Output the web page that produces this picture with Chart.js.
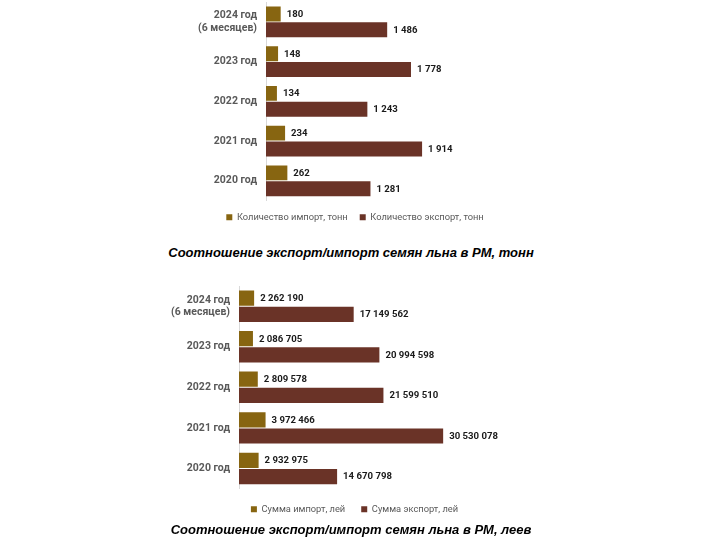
<!DOCTYPE html>
<html>
<head>
<meta charset="utf-8">
<script src="https://cdn.jsdelivr.net/npm/chart.js@4"></script>
<style>
  body { margin: 0; background: #fff; width: 702px; height: 541px; position: relative; overflow: hidden; }
  .box { position: absolute; }
  .caption { position: absolute; width: 702px; text-align: center; font-family: "Liberation Sans", Arial, sans-serif;
             font-weight: bold; font-style: italic; font-size: 13px; color: #000; }
</style>
</head>
<body>
<div class="box" style="left:170px; top:0px; width:370px; height:232px;"><canvas id="chartTons"></canvas></div>
<div class="caption" style="left:0px; top:245px;">Соотношение экспорт/импорт семян льна в РМ, тонн</div>
<div class="box" style="left:143px; top:284px; width:423px; height:240px;"><canvas id="chartLei"></canvas></div>
<div class="caption" style="left:0px; top:522px;">Соотношение экспорт/импорт семян льна в РМ, леев</div>
<script>
// years, top to bottom
const years = [["2024 год", "(6 месяцев)"], "2023 год", "2022 год", "2021 год", "2020 год"];

// tonnes
const importTons = [180, 148, 134, 234, 262];
const exportTons = [1486, 1778, 1243, 1914, 1281];

// lei
const importLei = [2262190, 2086705, 2809578, 3972466, 2932975];
const exportLei = [17149562, 20994598, 21599510, 30530078, 14670798];

const importColor = '#876511';
const exportColor = '#6a3327';

function fmt(n) {
  return String(n).replace(/\B(?=(\d{3})+(?!\d))/g, ' ');
}

// draw the numbers at the end of each bar
const valueLabels = {
  id: 'valueLabels',
  afterDatasetsDraw(chart) {
    const ctx = chart.ctx;
    ctx.save();
    ctx.font = 'bold 9.6px Roboto';
    ctx.fillStyle = '#1a1a1a';
    ctx.textBaseline = 'middle';
    chart.data.datasets.forEach((ds, i) => {
      chart.getDatasetMeta(i).data.forEach((bar, j) => {
        ctx.fillText(fmt(ds.data[j]), bar.x + 6, bar.y + 0.5);
      });
    });
    ctx.restore();
  }
};

function makeChart(id, imp, exp, impLabel, expLabel, xMax, legendPad) {
  return new Chart(document.getElementById(id), {
    type: 'bar',
    data: {
      labels: years,
      datasets: [
        { label: impLabel, data: imp, backgroundColor: importColor, categoryPercentage: 0.8, barPercentage: 0.94 },
        { label: expLabel, data: exp, backgroundColor: exportColor, categoryPercentage: 0.8, barPercentage: 0.94 }
      ]
    },
    options: {
      indexAxis: 'y',
      responsive: true,
      maintainAspectRatio: false,
      animation: false,
      layout: { padding: { top: 2, right: 0, left: 0, bottom: 0 } },
      scales: {
        x: { display: false, min: 0, max: xMax },
        y: {
          grid: { display: false, drawTicks: false },
          border: { display: true, color: '#d9d9d9', width: 1 },
          ticks: { color: '#595959', font: { family: 'Roboto', size: 10.5, weight: 'bold' }, padding: 9 },
          afterFit(scale) {
            scale.width = 96;
            scale.paddingTop = 0;
            scale.paddingBottom = 0;
          }
        }
      },
      plugins: {
        legend: {
          position: 'bottom',
          labels: { color: '#595959', font: { family: 'Roboto', size: 9.3 }, boxWidth: 6, boxHeight: 6, padding: legendPad }
        },
        tooltip: { enabled: false }
      }
    },
    plugins: [valueLabels]
  });
}

makeChart('chartTons', importTons, exportTons, 'Количество импорт, тонн', 'Количество экспорт, тонн', 3360, 12);
makeChart('chartLei', importLei, exportLei, 'Сумма импорт, лей', 'Сумма экспорт, лей', 48900000, 16);
</script>
</body>
</html>
